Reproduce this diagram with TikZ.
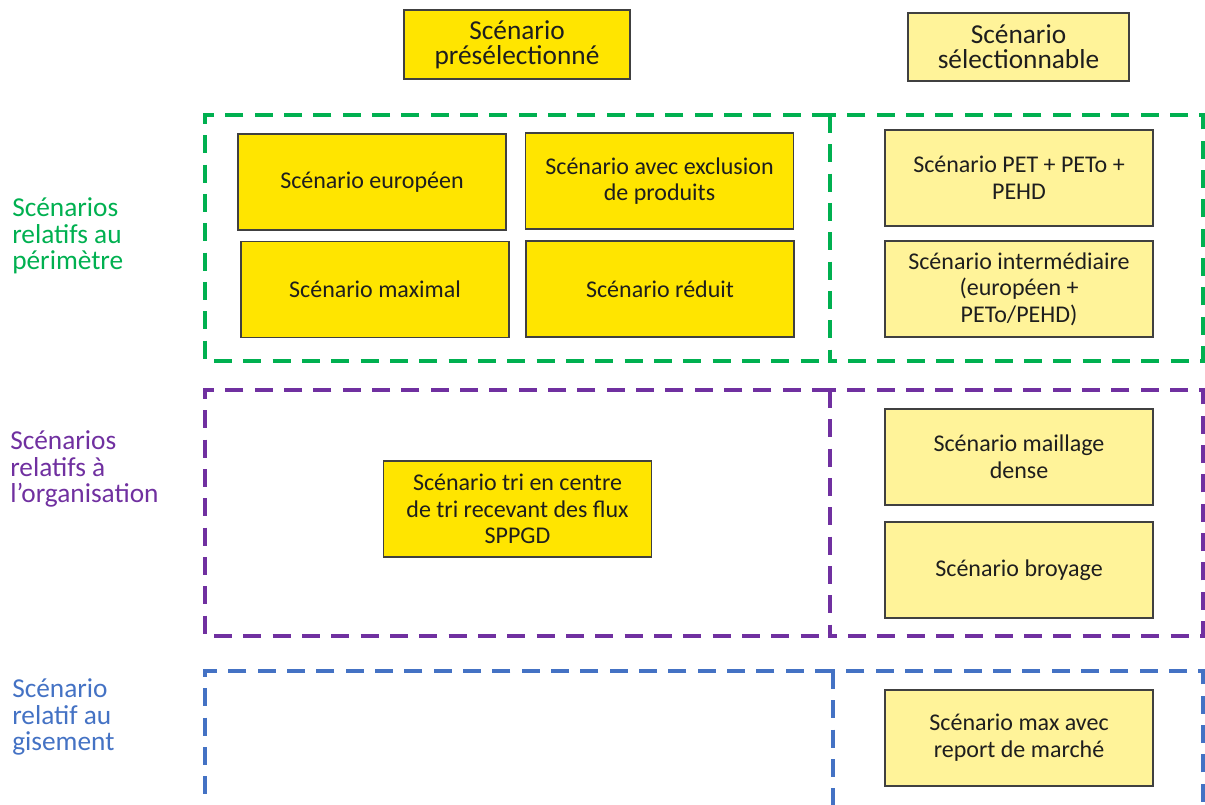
\documentclass[tikz,border=0pt]{standalone}
\usepackage{fontspec}
\setmainfont{Carlito}
\definecolor{preyellow}{RGB}{255,229,0}
\definecolor{selyellow}{RGB}{255,243,153}
\definecolor{boxline}{RGB}{64,64,64}
\definecolor{txtgray}{RGB}{30,30,30}
\definecolor{perigreen}{RGB}{0,176,80}
\definecolor{orgpurple}{RGB}{112,48,160}
\definecolor{gisblue}{RGB}{68,114,196}
\tikzset{
  scbox/.style={draw=boxline, line width=1.1pt, align=center, inner sep=2pt,
    text=txtgray, font=\fontsize{18}{20}\selectfont,
    minimum width=201pt, minimum height=72pt},
  prebox/.style={scbox, fill=preyellow},
  selbox/.style={scbox, fill=selyellow},
  headbox/.style={draw=boxline, line width=1.1pt, align=center, inner sep=2pt,
    text=txtgray, font=\fontsize{20.5}{19}\selectfont},
  zone/.style={line width=3pt, dash pattern=on 13.5pt off 8.5pt},
  rowlabel/.style={anchor=west, align=left, inner sep=0pt,
    font=\fontsize{20.5}{20}\selectfont},
}
\begin{document}
\begin{tikzpicture}[x=0.75pt, y=-0.75pt]
\useasboundingbox (0,0) rectangle (1205,805);
\clip (0,0) rectangle (1205,805);

% column headers
\node[headbox, fill=preyellow, minimum width=169.5pt, minimum height=51.75pt]
  (hpre) at (517,44.5) {Scénario\\présélectionné};
\node[headbox, fill=selyellow, minimum width=165.75pt, minimum height=51pt]
  (hsel) at (1018.5,47) {Scénario\\sélectionnable};

% dashed zones: the right-hand rectangle carries the shared divider
\draw[zone, perigreen] (830,115) -- (205,115) -- (205,361) -- (830,361);
\draw[zone, perigreen] (830,115) rectangle (1203,361);
\draw[zone, orgpurple] (830,390) -- (205,390) -- (205,636) -- (830,636);
\draw[zone, orgpurple] (830,390) rectangle (1203,636);
\draw[zone, gisblue] (833,671) -- (205,671) -- (205,830);
\draw[zone, gisblue] (833,671) rectangle (1203,830);

% row labels
\node[rowlabel, text=perigreen] (lperi) at (12,236) {Scénarios\\relatifs au\\périmètre};
\node[rowlabel, text=orgpurple] (lorg) at (10,469) {Scénarios\\relatifs à\\l’organisation};
\node[rowlabel, text=gisblue] (lgis) at (12,717) {Scénario\\relatif au\\gisement};

% perimeter scenarios
\node[prebox] (europ) at (372,182) {Scénario européen};
\node[prebox] (exclu) at (659.5,181) {Scénario avec exclusion\\de produits};
\node[prebox] (maxi) at (375,289.5) {Scénario maximal};
\node[prebox] (redu) at (660,289) {Scénario réduit};
\node[selbox] (pet) at (1019,178) {Scénario PET + PETo +\\PEHD};
\node[selbox] (inter) at (1019,289) {Scénario intermédiaire\\(européen +\\PETo/PEHD)};

% organisation scenarios
\node[prebox] (tri) at (517.5,509) {Scénario tri en centre\\de tri recevant des flux\\SPPGD};
\node[selbox] (maill) at (1019,457) {Scénario maillage\\dense};
\node[selbox] (broy) at (1019,570) {Scénario broyage};

% deposit scenario
\node[selbox] (report) at (1019,738) {Scénario max avec\\report de marché};
\end{tikzpicture}
\end{document}
